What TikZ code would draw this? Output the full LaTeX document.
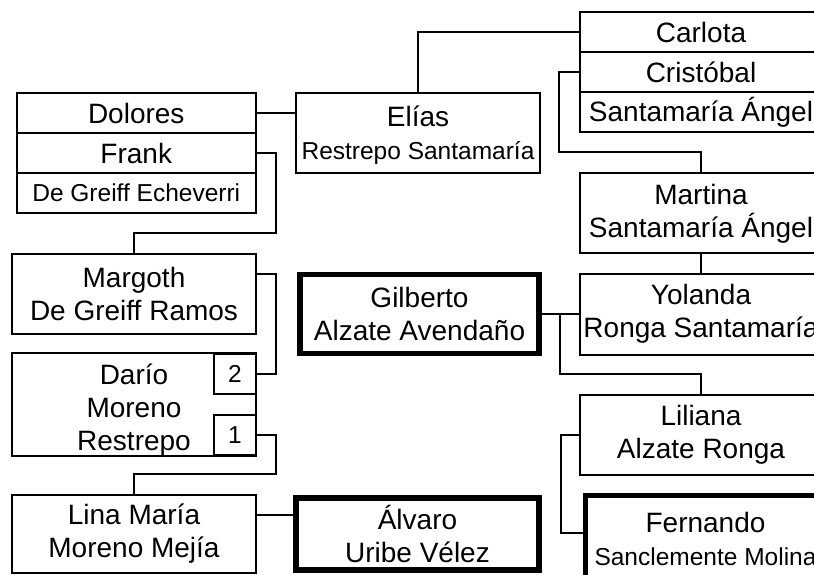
\documentclass[tikz,border=0pt]{standalone}
\usepackage{fontspec}
\setmainfont{Liberation Sans}
\usepackage{tikz}
\newcommand\bigname{\fontsize{28}{33}\selectfont}
\newcommand\midname{\fontsize{24.5}{30}\selectfont}
\def\lw{2pt}
\tikzset{person/.style={draw, line width=\lw, inner sep=0pt, align=center, font=\bigname, minimum width=244pt, minimum height=80pt}}
\tikzset{row/.style={person, minimum height=40pt}}
\tikzset{ego/.style={person, line width=5.5pt}}
\tikzset{link/.style={line width=\lw}}

\begin{document}
\begin{tikzpicture}[x=1pt, y=-1pt]
\useasboundingbox (0,0) rectangle (814,575);
\clip (0,0) rectangle (814,575);
\node[row, minimum width=239.5pt] (dolores) at (136.25,113) {Dolores};
\node[row, minimum width=239.5pt] (frank) at (136.25,153) {Frank};
\node[row, minimum width=239.5pt, font=\midname] (echeverri) at (136.25,193) {De Greiff Echeverri};
\node[person] (elias) at (418,133) {\rule{0pt}{26pt}Elías\\\midname Restrepo Santamaría};
\node[row, minimum width=242pt] (carlota) at (701,32.5) {Carlota};
\node[row, minimum width=242pt] (cristobal) at (701,72.5) {Cristóbal};
\node[row, minimum width=242pt] (angel) at (701,112.5) {Santamaría Ángel};
\node[person, minimum width=242pt] (martina) at (701,213.3) {Martina\\Santamaría Ángel};
\node[person] (margoth) at (134,294) {Margoth\\De Greiff Ramos};
\node[ego, minimum width=239pt, minimum height=79pt] (gilberto) at (419.5,314) {Gilberto\\Alzate Avendaño};
\node[person, minimum width=242pt, minimum height=81pt] (yolanda) at (701,314) {Yolanda\\Ronga Santamaría};
\node[person, minimum height=101pt] (dario) at (134,404.5) {\rule{0pt}{31pt}Darío\\Moreno\\Restrepo};
\node[row, minimum width=42pt, font=\midname] (two) at (235,374) {2};
\node[row, minimum width=42pt, font=\midname] (one) at (235,435) {1};
\node[person, minimum width=242pt] (liliana) at (701,435) {Liliana\\Alzate Ronga};
\node[person, minimum height=78pt] (lina) at (134,534) {Lina María\\Moreno Mejía};
\node[ego, minimum width=243pt, minimum height=72pt] (alvaro) at (417.5,534) {Álvaro\\Uribe Vélez};
\node[ego, minimum width=240pt, minimum height=86.5pt] (fernando) at (705.5,538.8) {Fernando\\\midname Sanclemente Molina};

\draw[link] (dolores.east) -- ([yshift=20pt]elias.west);
\draw[link] (elias.north) |- (carlota.west);
\draw[link] (cristobal.west) -| ([xshift=-20pt,yshift=20pt]martina.north west) -| (martina.north);
\draw[link] (martina.south) -- (yolanda.north);
\draw[link] (frank.east) -| ([xshift=19pt,yshift=20pt]margoth.north east) -| (margoth.north);
\draw[link] ([yshift=20pt]margoth.east) -| ([xshift=19pt]two.east) -- (two.east);
\draw[link] (one.east) -| ([xshift=19pt,yshift=20pt]lina.north east) -| (lina.north);
\draw[link] ([yshift=19pt]lina.east) -- ([yshift=19pt]alvaro.west);
\draw[link] (gilberto.east) -- (yolanda.west);
\draw[link] ([xshift=-19pt]yolanda.west) |- ([yshift=20pt]liliana.north) -- (liliana.north);
\draw[link] (liliana.west) -| ([xshift=-22pt,yshift=5.5pt]fernando.west) -- ([yshift=5.5pt]fernando.west);
\end{tikzpicture}
\end{document}
